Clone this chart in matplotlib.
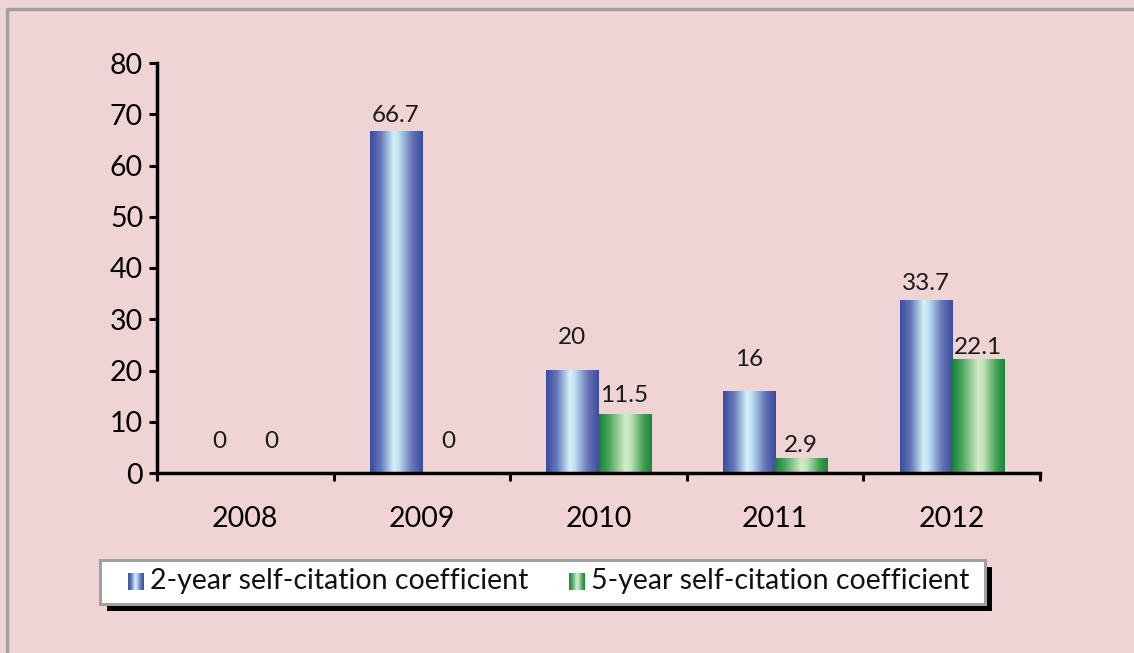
import matplotlib
matplotlib.use("Agg")
import matplotlib.pyplot as plt
import numpy as np
from matplotlib.colors import LinearSegmentedColormap
from matplotlib.patches import Rectangle
from matplotlib.lines import Line2D

plt.rcParams['font.family'] = ['Lato', 'DejaVu Sans']

# data
years = ['2008', '2009', '2010', '2011', '2012']
two_year = [0, 66.7, 20, 16, 33.7]
five_year = [0, 0, 11.5, 2.9, 22.1]
two_year_labels = ['0', '66.7', '20', '16', '33.7']
five_year_labels = ['0', '0', '11.5', '2.9', '22.1']
series_names = ['2-year self-citation coefficient', '5-year self-citation coefficient']

# label offsets above bar top (pixels)
two_off = [31, 16, 33, 32, 17]
five_off = [31, 31, 19, 13, 12]

W, H = 1134, 653
BG = '#F0D4D4'

fig = plt.figure(figsize=(W / 100, H / 100), dpi=100, facecolor=BG)


def fx(x):
    return x / W


def fy(y):
    return 1 - y / H


blue_cmap = LinearSegmentedColormap.from_list('b', [
    (0.0, '#3A4D9E'), (0.2, '#6475B8'), (0.45, '#D4F2FB'),
    (0.55, '#BBDDF1'), (0.8, '#6573B6'), (1.0, '#3C4C9C')])
green_cmap = LinearSegmentedColormap.from_list('g', [
    (0.0, '#17823A'), (0.2, '#4FA85E'), (0.5, '#D3EDCB'),
    (0.6, '#BFE2B6'), (0.85, '#3F9E50'), (1.0, '#198439')])
grad = np.linspace(0, 1, 256).reshape(1, -1)

# outer frame
fig.add_artist(Line2D([fx(7), fx(7), fx(W)], [fy(H), fy(9), fy(9)],
                      transform=fig.transFigure, color='#A0A0A0', lw=2.5))

ax = fig.add_axes([fx(157), fy(473), fx(883), 410 / H])
ax.set_facecolor('none')

n = len(years)
centers = np.arange(n) + 0.5
bw = 0.295
for i in range(n):
    for vals, cmap, side in ((two_year, blue_cmap, -1), (five_year, green_cmap, 0)):
        v = vals[i]
        if v <= 0:
            continue
        x0 = centers[i] + side * bw
        ax.imshow(grad, extent=[x0, x0 + bw, 0, v], aspect='auto',
                  cmap=cmap, zorder=2, interpolation='bilinear')

for i in range(n):
    ax.annotate(two_year_labels[i], (centers[i] - bw / 2, two_year[i]),
                xytext=(0, two_off[i] * 0.72), textcoords='offset points',
                ha='center', va='center', fontsize=17.5, color='#1a1a1a')
    ax.annotate(five_year_labels[i], (centers[i] + bw / 2, five_year[i]),
                xytext=(0, five_off[i] * 0.72), textcoords='offset points',
                ha='center', va='center', fontsize=17.5, color='#1a1a1a')

ax.set_xlim(0, n)
ax.set_ylim(0, 80)
ax.set_yticks(range(0, 81, 10))
ax.set_xticks(range(n + 1))
ax.set_xticklabels([])
ax.set_xticks(centers, minor=True)
ax.set_xticklabels(years, minor=True)
ax.tick_params(axis='x', which='minor', length=0, pad=24, labelsize=20.5)
ax.tick_params(axis='x', which='major', length=6, width=2.2, direction='out')
ax.tick_params(axis='y', length=6, width=2.2, direction='out', labelsize=20.5, pad=4)
for s in ('top', 'right'):
    ax.spines[s].set_visible(False)
for s in ('left', 'bottom'):
    ax.spines[s].set_linewidth(2.5)
    ax.spines[s].set_zorder(3)

# legend box with shadow
fig.add_artist(Rectangle((fx(107), fy(611)), fx(885), 44 / H,
                         transform=fig.transFigure, facecolor='black', edgecolor='none'))
fig.add_artist(Rectangle((fx(100), fy(604)), fx(885), 44 / H,
                         transform=fig.transFigure, facecolor='white',
                         edgecolor='#A0A0A0', lw=2.2))
for (x0, cmap, name) in ((128, blue_cmap, series_names[0]), (569, green_cmap, series_names[1])):
    iax = fig.add_axes([fx(x0), fy(590), fx(16), 17 / H])
    iax.set_zorder(5)
    iax.imshow(grad, aspect='auto', cmap=cmap, interpolation='bilinear')
    iax.axis('off')
    fig.text(fx(x0 + 22), fy(581), name, ha='left', va='center', fontsize=20.5,
             color='#111111', zorder=6)

fig.savefig('out.png', dpi=100, facecolor=BG)
